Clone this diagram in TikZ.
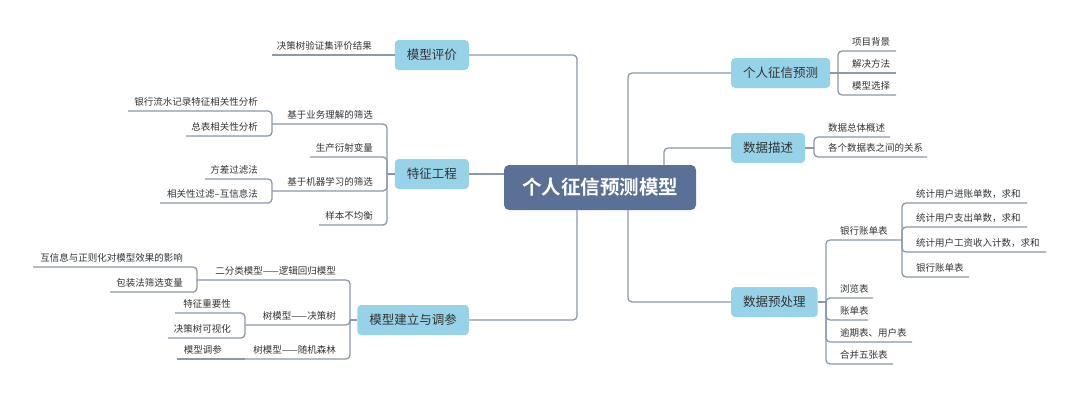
\documentclass[tikz,border=0pt]{standalone}
\usepackage{fontspec}
\setmainfont{Noto Sans CJK SC}[BoldFont={Noto Sans CJK SC Bold}]
\definecolor{rootC}{HTML}{5A7096}
\definecolor{boxC}{HTML}{96D3E8}
\definecolor{lineC}{HTML}{8C98AC}
\definecolor{txtC}{HTML}{333333}
\tikzset{
  conn/.style={draw=lineC, line width=1.3pt, rounded corners=4pt},
  leaf/.style={font=\fontsize{9.5}{11}\selectfont, text=txtC, inner sep=0pt},
  topic/.style={fill=boxC, rounded corners=4pt, minimum height=30pt, inner xsep=12pt, inner ysep=0pt,
    font=\fontsize{12.5}{14}\selectfont, text=txtC},
  rootbox/.style={fill=rootC, rounded corners=5pt, minimum width=192pt, minimum height=45pt,
    font=\bfseries\fontsize{19.5}{22}\selectfont, text=white},
}
\newcommand\leafR[6]{%
  \draw[conn] (#2,#3) |- (#5,#4);
  \node[leaf,anchor=west] (#1) at (#2+14,#4-9) {#6};}
\newcommand\leafL[6]{%
  \draw[conn] (#2,#3) |- (#5,#4);
  \node[leaf,anchor=east] (#1) at (#2-14,#4-9) {#6};}
\begin{document}
\begin{tikzpicture}[x=1pt,y=-1pt]
\useasboundingbox (0,0) rectangle (1080,399);
\fill[white] (0,0) rectangle (1080,399);
\coordinate (tR) at (628,0);
\coordinate (tL) at (577,0);
\coordinate (tM) at (664,0);
\node[rootbox] (root) at (600,187.5) {个人征信预测模型};
\node[topic,anchor=west] (A) at (731,73) {个人征信预测};
\node[topic,anchor=west] (B) at (731,148) {数据描述};
\node[topic,anchor=west] (C) at (731,302) {数据预处理};
\node[topic,anchor=east] (D) at (469,55) {模型评价};
\node[topic,anchor=east] (E) at (469,174) {特征工程};
\node[topic,anchor=east] (F) at (469,320) {模型建立与调参};
\draw[conn] (root.north -| tR) |- (A.west);
\draw[conn] (root.north -| tM) |- (B.west);
\draw[conn] (root.south -| tR) |- (C.west);
\draw[conn] (root.north -| tL) |- (D.east);
\draw[conn] (root.south -| tL) |- (F.east);
\draw[conn] (E.east) -- (root.west |- E.east);
% A
\coordinate (a2e) at (896,73);
\draw[conn] (A.east) -- (a2e);
\leafR{a1}{838}{73}{51}{896}{项目背景}
\node[leaf,anchor=west] (a2) at (852,64) {解决方法};
\leafR{a3}{838}{73}{95}{896}{模型选择}
% B
\draw[conn] (B.east) -- (814,148);
\leafR{b1}{814}{148}{137}{890}{数据总体概述}
\leafR{b2}{814}{148}{157}{927}{各个数据表之间的关系}
% C
\draw[conn] (C.east) -- (826,302);
\leafR{c1}{826}{302}{240}{902}{银行账单表}
\leafR{c2}{826}{302}{298}{873}{浏览表}
\leafR{c3}{826}{302}{320}{868}{账单表}
\leafR{c4}{826}{302}{342}{912}{逾期表、用户表}
\leafR{c5}{826}{302}{364}{893}{合并五张表}
\leafR{c11}{902}{240}{203}{1027}{统计用户进账单数，求和}
\leafR{c12}{902}{240}{227}{1027}{统计用户支出单数，求和}
\leafR{c13}{902}{240}{252}{1046}{统计用户工资收入计数，求和}
\leafR{c14}{902}{240}{277}{969}{银行账单表}
% D
\coordinate (d1e) at (272,55);
\draw[conn] (D.west) -- (d1e);
\node[leaf,anchor=east] (d1) at (372,46) {决策树验证集评价结果};
% E
\draw[conn] (E.west) -- (387,174);
\leafL{e1}{387}{174}{124}{272}{基于业务理解的筛选}
\leafL{e2}{387}{174}{157}{310}{生产衍射变量}
\leafL{e3}{387}{174}{191}{272}{基于机器学习的筛选}
\leafL{e4}{387}{174}{225}{319}{样本不均衡}
\leafL{e11}{272}{124}{111}{128}{银行流水记录特征相关性分析}
\leafL{e12}{272}{124}{136}{186}{总表相关性分析}
\leafL{e31}{272}{191}{179}{205}{方差过滤法}
\leafL{e32}{272}{191}{203}{160}{相关性过滤–互信息法}
% F
\draw[conn] (F.west) -- (350,320);
\leafL{f1}{350}{320}{280}{197}{二分类模型——逻辑回归模型}
\leafL{f2}{350}{320}{325}{245}{树模型——决策树}
\leafL{f3}{350}{320}{359}{245}{树模型——随机森林}
\leafL{f11}{197}{280}{267}{33}{互信息与正则化对模型效果的影响}
\leafL{f12}{197}{280}{292}{110}{包装法筛选变量}
\leafL{f21}{245}{325}{313}{175}{特征重要性}
\leafL{f22}{245}{325}{338}{168}{决策树可视化}
\coordinate (f31e) at (177,359);
\draw[conn] (245,359) -- (f31e);
\node[leaf,anchor=east] (f31) at (222,350) {模型调参};
\end{tikzpicture}
\end{document}
